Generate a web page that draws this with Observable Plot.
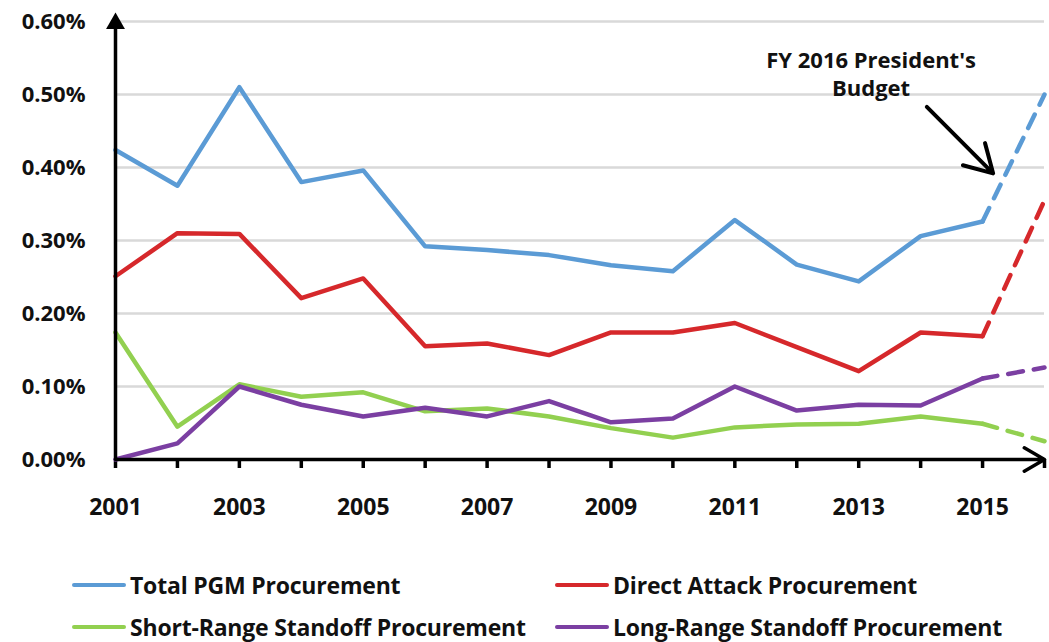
<!DOCTYPE html>
<html><head><meta charset="utf-8">
<script src="https://cdn.jsdelivr.net/npm/d3@7"></script>
<script src="https://cdn.jsdelivr.net/npm/@observablehq/plot@0.6"></script>
<style>
body{margin:0;background:#fff;font-family:"Open Sans",sans-serif;}
#wrap{position:relative;width:1049px;height:642px;overflow:hidden;}
.leg{position:absolute;display:flex;align-items:center;font-weight:700;font-size:23px;color:#111;letter-spacing:-0.2px;white-space:nowrap;line-height:26px;height:26px;}
.sw{width:54px;height:4px;margin-right:4px;border-radius:2px;}
</style></head><body><div id="wrap"><div id="chart"></div></div>
<script>
const years      = [2001,2002,2003,2004,2005,2006,2007,2008,2009,2010,2011,2012,2013,2014,2015,2016];
const total      = [0.424,0.375,0.510,0.380,0.396,0.292,0.287,0.280,0.266,0.258,0.328,0.267,0.244,0.306,0.326,0.500];
const direct     = [0.251,0.310,0.309,0.221,0.248,0.155,0.159,0.143,0.174,0.174,0.187,0.154,0.121,0.174,0.169,0.355];
const shortRange = [0.174,0.045,0.103,0.086,0.092,0.066,0.070,0.059,0.043,0.030,0.044,0.048,0.049,0.059,0.049,0.025];
const longRange  = [0.000,0.022,0.100,0.075,0.059,0.071,0.059,0.080,0.051,0.056,0.100,0.067,0.075,0.074,0.111,0.126];
const seriesNames  = ["Total PGM Procurement","Direct Attack Procurement","Short-Range Standoff Procurement","Long-Range Standoff Procurement"];
const seriesColors = ["#5b9bd5","#d6282b","#92d050","#7b3fa2"];
const yTicks = [0,0.1,0.2,0.3,0.4,0.5,0.6];
const xLabelYears = [2001,2003,2005,2007,2009,2011,2013,2015];
const lastActualYear = 2015;
const noteLines = [{x:2013.2, y:0.546, text:"FY 2016 President's"},{x:2013.2, y:0.508, text:"Budget"}];
const noteArrow = [{x1:2014.1, y1:0.483, x2:2015.17, y2:0.392}];

const seriesValues = [total, direct, shortRange, longRange];
const rows = [];
seriesNames.forEach((s,k)=>years.forEach((yr,i)=>rows.push({series:s, year:yr, value:seriesValues[k][i]})));
const actual = rows.filter(d=>d.year<=lastActualYear);
const budget = rows.filter(d=>d.year>=lastActualYear);
const yTop = yTicks[yTicks.length-1];
const yAxisLine = [{x1:years[0],y1:0,x2:years[0],y2:yTop}];
const yAxisHead = [{x:years[0],y:yTop}];
const xAxisArrow = [{x1:years[0],y1:0,x2:years[years.length-1],y2:0}];

const chart = Plot.plot({
  width:1049, height:530,
  marginLeft:115, marginRight:5, marginTop:21, marginBottom:71,
  style:{fontFamily:"'Open Sans', sans-serif", fontSize:"22px", fontWeight:700, color:"#111", background:"#fff"},
  x:{domain:[2001,2016]},
  y:{domain:[0,0.6]},
  color:{domain:seriesNames, range:seriesColors},
  marks:[
    Plot.gridY(yTicks.slice(1),{stroke:"#d9d9d9",strokeOpacity:1,strokeWidth:2.5}),
    Plot.axisY(yTicks,{tickSize:0,tickPadding:30,tickFormat:d=>d.toFixed(2)+"%",fontSize:22,fontWeight:700,label:null}),
    Plot.axisX(years,{tickSize:9,strokeWidth:3.5,stroke:"#000",tickPadding:30,tickFormat:d=>xLabelYears.includes(d)?String(d):"",fontSize:23,fontWeight:700,label:null}),
    Plot.line(actual,{x:"year",y:"value",z:"series",stroke:"series",strokeWidth:4.5}),
    Plot.line(budget,{x:"year",y:"value",z:"series",stroke:"series",strokeWidth:4.5,strokeDasharray:"15,11"}),
    Plot.link(yAxisLine,{x1:"x1",y1:"y1",x2:"x2",y2:"y2",stroke:"#000",strokeWidth:3.5}),
    Plot.dot(yAxisHead,{x:"x",y:"y",symbol:"triangle",fill:"#000",r:7,dy:2}),
    Plot.arrow(xAxisArrow,{x1:"x1",y1:"y1",x2:"x2",y2:"y2",stroke:"#000",strokeWidth:3.5,headLength:10}),
    Plot.arrow(noteArrow,{x1:"x1",y1:"y1",x2:"x2",y2:"y2",stroke:"#000",strokeWidth:4,headLength:12}),
    Plot.text(noteLines,{x:"x",y:"y",text:"text",fontSize:22,fontWeight:700,fill:"#111"})
  ]
});
document.getElementById("chart").appendChild(chart);

const wrap = document.getElementById("wrap");
const legPos = [[72,572],[555,572],[72,614],[555,614]];
seriesNames.forEach((s,k)=>{
  const el = document.createElement("div");
  el.className="leg";
  el.style.left=legPos[k][0]+"px"; el.style.top=legPos[k][1]+"px";
  el.innerHTML=`<span class="sw" style="background:${seriesColors[k]}"></span><span>${s}</span>`;
  wrap.appendChild(el);
});
</script></body></html>
